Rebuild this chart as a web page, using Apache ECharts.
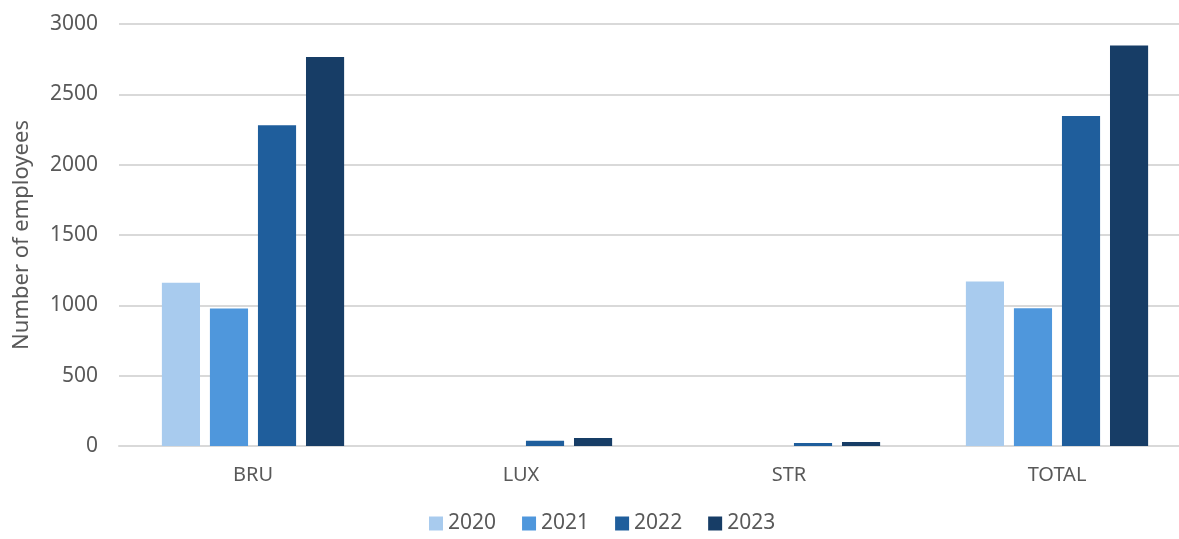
<!DOCTYPE html>
<html>
<head>
<meta charset="utf-8">
<script src="https://cdn.jsdelivr.net/npm/echarts@6/dist/echarts.min.js"></script>
<style>html,body{margin:0;padding:0;background:#fff;overflow:hidden;}#c{width:1195px;height:539px;}</style>
</head>
<body>
<div id="c"></div>
<script>
const categories = ['BRU', 'LUX', 'STR', 'TOTAL'];
const years = ['2020', '2021', '2022', '2023'];
const v2020 = [1160, 0, 0, 1170];
const v2021 = [978, 0, 0, 980];
const v2022 = [2280, 38, 21, 2346];
const v2023 = [2765, 57, 28, 2848];
const yTicks = [0, 500, 1000, 1500, 2000, 2500, 3000];
const colors = ['#A8CBEE', '#4F97DC', '#1F5E9C', '#173D66'];
const seriesValues = [v2020, v2021, v2022, v2023];

const font = '"Noto Sans", Lato, sans-serif';
const chart = echarts.init(document.getElementById('c'));
chart.setOption({
  animation: false,
  color: colors,
  grid: { left: 119, top: 24, right: 4, height: 422, containLabel: false },
  legend: {
    bottom: 0, left: 424,
    itemWidth: 14, itemHeight: 14, itemGap: 26,
    icon: 'rect',
    textStyle: { color: '#595959', fontSize: 21, fontFamily: font },
    data: years
  },
  xAxis: {
    type: 'category',
    data: categories,
    axisLine: { show: true, lineStyle: { color: '#D9D9D9', width: 2 } },
    axisTick: { show: false },
    axisLabel: { color: '#595959', fontSize: 20, fontFamily: font, margin: 19 }
  },
  yAxis: {
    type: 'value',
    min: yTicks[0], max: yTicks[yTicks.length - 1], interval: 500,
    name: 'Number of employees',
    nameLocation: 'middle',
    nameGap: 86,
    nameTextStyle: { color: '#595959', fontSize: 22, fontFamily: font },
    axisLine: { show: false },
    axisTick: { show: false },
    axisLabel: { color: '#595959', fontSize: 21, fontFamily: font, margin: 21, formatter: v => String(v) },
    splitLine: { lineStyle: { color: '#D9D9D9', width: 2 } }
  },
  series: years.map((y, i) => ({
    name: y,
    type: 'bar',
    data: seriesValues[i],
    barGap: '26%',
    barCategoryGap: '32%',
    itemStyle: { color: colors[i] }
  }))
});
</script>
</body>
</html>
